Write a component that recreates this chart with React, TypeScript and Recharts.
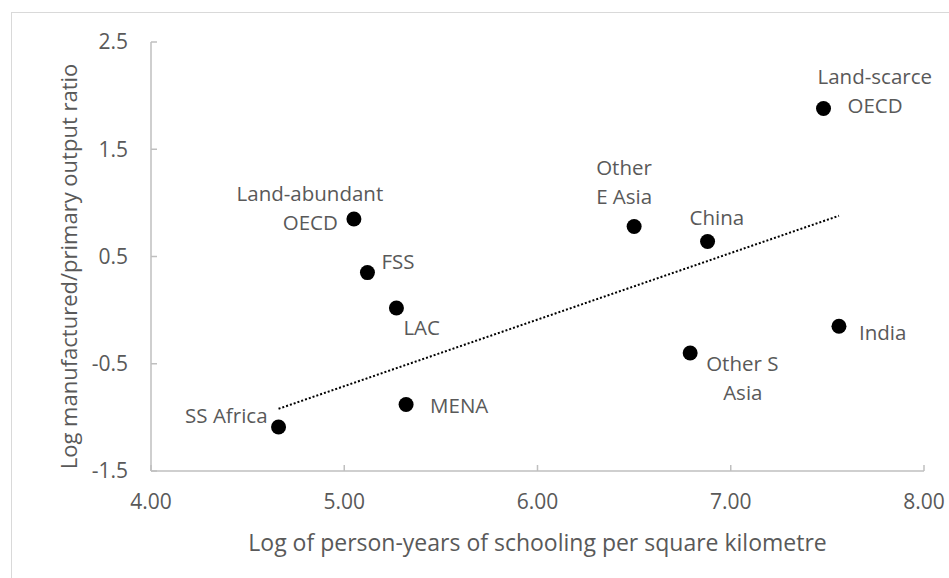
import React from "react";
import { ScatterChart, Scatter, XAxis, YAxis, ReferenceLine, Label } from "recharts";

const regions = ["Land-abundant OECD", "FSS", "LAC", "MENA", "SS Africa", "Other E Asia", "China", "Land-scarce OECD", "Other S Asia", "India"];
const schooling = [5.05, 5.12, 5.27, 5.32, 4.66, 6.5, 6.88, 7.48, 6.79, 7.56];
const outputRatio = [0.85, 0.35, 0.02, -0.88, -1.09, 0.78, 0.64, 1.88, -0.4, -0.15];
const xTicks = [4, 5, 6, 7, 8];
const yTicks = [-1.5, -0.5, 0.5, 1.5, 2.5];
const trendStart = { x: 4.66, y: -0.92 };
const trendEnd = { x: 7.56, y: 0.88 };

const points = regions.map((name, i) => ({ name, x: schooling[i], y: outputRatio[i] }));

type LabelLine = { text: string; dx: number; dy: number; anchor: "start" | "middle" | "end" };
const labelLayout: Record<string, LabelLine[]> = {
  "Land-abundant OECD": [
    { text: "Land-abundant", dx: -44, dy: -26, anchor: "middle" },
    { text: "OECD", dx: -16, dy: 3, anchor: "end" },
  ],
  FSS: [{ text: "FSS", dx: 14, dy: -12, anchor: "start" }],
  LAC: [{ text: "LAC", dx: 7, dy: 19, anchor: "start" }],
  MENA: [{ text: "MENA", dx: 24, dy: 0, anchor: "start" }],
  "SS Africa": [{ text: "SS Africa", dx: -11, dy: -12, anchor: "end" }],
  "Other E Asia": [
    { text: "Other", dx: -38, dy: -59, anchor: "start" },
    { text: "E Asia", dx: -38, dy: -30, anchor: "start" },
  ],
  China: [{ text: "China", dx: -18, dy: -24, anchor: "start" }],
  "Land-scarce OECD": [
    { text: "Land-scarce", dx: -6, dy: -32, anchor: "start" },
    { text: "OECD", dx: 24, dy: -3, anchor: "start" },
  ],
  "Other S Asia": [
    { text: "Other S", dx: 16, dy: 10, anchor: "start" },
    { text: "Asia", dx: 33, dy: 39, anchor: "start" },
  ],
  India: [{ text: "India", dx: 20, dy: 6, anchor: "start" }],
};

const FONT = "'Open Sans', sans-serif";
const TEXT = "#595959";
const AXIS = "#bfbfbf";

const DotWithLabel = (props: any) => {
  const { cx, cy, payload } = props;
  const lines = labelLayout[payload.name] || [];
  return (
    <g>
      <circle cx={cx} cy={cy} r={7.5} fill="#000" />
      {lines.map((l, i) => (
        <text
          key={i}
          x={cx + l.dx}
          y={cy + l.dy}
          textAnchor={l.anchor}
          dominantBaseline="central"
          fontFamily={FONT}
          fontSize={20.5}
          fill={TEXT}
        >
          {l.text}
        </text>
      ))}
    </g>
  );
};

export default function App() {
  return (
    <div style={{ position: "absolute", left: 0, top: 0, width: 949, height: 578, overflow: "hidden", background: "#fff" }}>
      <div
        style={{
          position: "absolute",
          left: 11,
          top: 12,
          width: 1000,
          height: 600,
          border: "1px solid #d9d9d9",
          boxSizing: "border-box",
        }}
      />
      <div style={{ position: "absolute", left: 0, top: 0 }}>
        <ScatterChart width={949} height={578} margin={{ top: 42, right: 25, bottom: 67, left: 91 }}>
          <XAxis
            type="number"
            dataKey="x"
            domain={[4, 8]}
            ticks={xTicks}
            tickFormatter={(v: number) => v.toFixed(2)}
            height={40}
            stroke={AXIS}
            strokeWidth={1.5}
            tickSize={-6}
            tickMargin={29}
            tick={{ fill: TEXT, fontSize: 21, fontFamily: FONT }}
            interval={0}
          >
            <Label
              content={(p: any) => {
                const vb = p.viewBox;
                return (
                  <text
                    x={vb.x + vb.width / 2}
                    y={vb.y + vb.height + 31}
                    textAnchor="middle"
                    dominantBaseline="central"
                    fontFamily={FONT}
                    fontSize={23}
                    fill={TEXT}
                  >
                    Log of person-years of schooling per square kilometre
                  </text>
                );
              }}
            />
          </XAxis>
          <YAxis
            type="number"
            dataKey="y"
            domain={[-1.5, 2.5]}
            ticks={yTicks}
            width={60}
            stroke={AXIS}
            strokeWidth={1.5}
            tickSize={-6}
            tickMargin={29}
            tick={{ fill: TEXT, fontSize: 21, fontFamily: FONT }}
            interval={0}
          >
            <Label
              content={(p: any) => {
                const vb = p.viewBox;
                const x = vb.x - 23;
                const y = vb.y + vb.height / 2 + 10;
                return (
                  <text
                    x={x}
                    y={y}
                    transform={`rotate(-90, ${x}, ${y})`}
                    textAnchor="middle"
                    dominantBaseline="central"
                    fontFamily={FONT}
                    fontSize={22}
                    fill={TEXT}
                  >
                    Log manufactured/primary output ratio
                  </text>
                );
              }}
            />
          </YAxis>
          <ReferenceLine
            segment={[trendStart, trendEnd]}
            stroke="#000"
            strokeWidth={2}
            strokeDasharray="2 2"
            ifOverflow="visible"
          />
          <Scatter data={points} shape={DotWithLabel} isAnimationActive={false} />
        </ScatterChart>
      </div>
    </div>
  );
}
